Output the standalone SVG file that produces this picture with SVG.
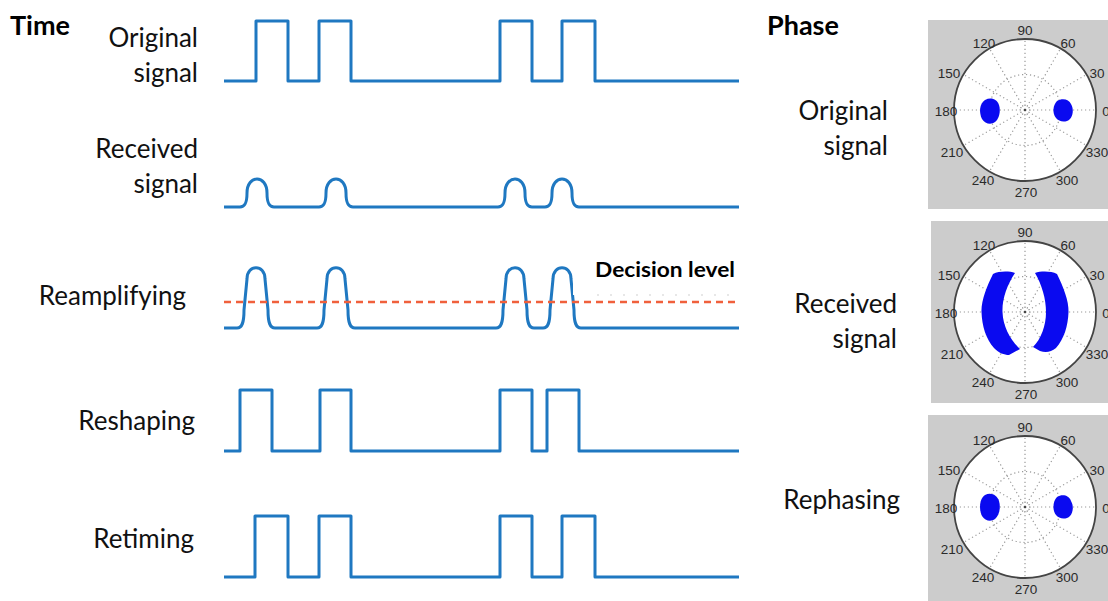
<svg xmlns="http://www.w3.org/2000/svg" xmlns:xlink="http://www.w3.org/1999/xlink" width="1108" height="601" viewBox="0 0 1108 601">
<style>
.lbl{font-family:Lato,"Liberation Sans",sans-serif;font-size:26px;fill:#111}
.hdr{font-family:Lato,"Liberation Sans",sans-serif;font-size:27px;font-weight:bold;fill:#000}
.wave{fill:none;stroke:#1f78c1;stroke-width:3;stroke-linejoin:round}
.ang{font-family:"Liberation Sans",Arial,sans-serif;font-size:13.5px;fill:#2a2a2a;text-anchor:middle}
.panel{fill:#cccccc}
.blob{fill:#0a0af0}
</style>
<defs>
<g id="polargrid">
<circle r="71" fill="#fff" stroke="#444" stroke-width="1.8"/>
<path d="M0,0L71,0M0,0L61.5,-35.5M0,0L35.5,-61.5M0,0L0,-71M0,0L-35.5,-61.5M0,0L-61.5,-35.5M0,0L-71,0M0,0L-61.5,35.5M0,0L-35.5,61.5M0,0L0,71M0,0L35.5,61.5M0,0L61.5,35.5" fill="none" stroke="#999" stroke-width="1.2" stroke-dasharray="1.2 2.8"/>
<circle r="35.5" fill="none" stroke="#999" stroke-width="1.2" stroke-dasharray="1.2 2.8"/>
<circle r="5" fill="none" stroke="#999" stroke-width="1" stroke-dasharray="1 1.5"/>
<circle r="1.3" fill="#444"/>
</g>
</defs>

<g id="time-header"><text class="hdr" x="10" y="35">Time</text></g>
<g id="phase-header"><text class="hdr" x="767" y="35">Phase</text></g>

<g id="row-original">
<text class="lbl" x="198" y="47" text-anchor="end">Original</text>
<text class="lbl" x="198" y="82" text-anchor="end">signal</text>
<path class="wave" d="M224,81H256V21H288V81H319V21H351V81H500V21H532V81H562V21H595V81H739"/>
</g>

<g id="row-received">
<text class="lbl" x="198" y="158" text-anchor="end">Received</text>
<text class="lbl" x="198" y="193" text-anchor="end">signal</text>
<path class="wave" d="M224,207H240C245,207 247,203 247,193C247,174.3 267,174.3 267,193C267,203 269,207 274,207H319C324,207 326,203 326,193C326,174.3 346,174.3 346,193C346,203 348,207 353,207H498C503,207 505,203 505,193C505,174.3 525,174.3 525,193C525,203 527,207 532,207H545C550,207 552,203 552,193C552,174.3 572,174.3 572,193C572,203 574,207 579,207H739"/>
</g>

<g id="row-reamplifying">
<text class="lbl" x="186" y="305" text-anchor="end">Reamplifying</text>
<path class="wave" d="M224,328H237C242,328 244,323 244,310L247,279C247,264 265,264 265,279L268,310C268,323 270,328 275,328H317C322,328 324,323 324,310L327,279C327,264 345,264 345,279L348,310C348,323 350,328 355,328H496C501,328 503,323 503,310L506,279C506,264 524,264 524,279L527,310C527,323 529,328 534,328H543C548,328 550,323 550,310L553,279C553,264 571,264 571,279L574,310C574,323 576,328 581,328H739"/>
<rect x="573" y="250" width="168" height="45" fill="#fff"/>
<line x1="597" y1="295" x2="739" y2="295" stroke="#cfcfcf" stroke-width="1.2" stroke-dasharray="2 11"/>
<line x1="224" y1="302" x2="739" y2="302" stroke="#f0603c" stroke-width="2.5" stroke-dasharray="7 5"/>
<text x="595" y="277" font-family="Lato,'Liberation Sans',sans-serif" font-size="20" font-weight="bold" fill="#000" textLength="140" lengthAdjust="spacingAndGlyphs">Decision level</text>
</g>

<g id="row-reshaping">
<text class="lbl" x="195" y="430" text-anchor="end">Reshaping</text>
<path class="wave" d="M224,451H240V390H272V451H320V390H351V451H500V390H532V451H547V390H579V451H739"/>
</g>

<g id="row-retiming">
<text class="lbl" x="194" y="548" text-anchor="end">Retiming</text>
<path class="wave" d="M224,577H255V516H288V577H319V516H351V577H500V516H532V577H562V516H595V577H739"/>
</g>

<g id="phase-original">
<text class="lbl" x="888" y="120" text-anchor="end">Original</text>
<text class="lbl" x="888" y="155" text-anchor="end">signal</text>
<rect class="panel" x="928" y="20" width="180" height="189"/>
<g transform="translate(1025,110)">
<use xlink:href="#polargrid"/>
<path class="blob" d="M-40,-10C-34,-13 -28,-11 -26,-5C-24,1 -26,9 -30,12C-34,15 -40,14 -43,9C-46,3 -46,-6 -40,-10Z"/>
<path class="blob" d="M32,-9C37,-12 44,-11 46,-6C49,-1 48,6 45,9C41,13 34,12 31,8C27,3 28,-5 32,-9Z"/>
<text class="ang" x="0" y="-75">90</text>
<text class="ang" x="-41" y="-62">120</text>
<text class="ang" x="43" y="-62">60</text>
<text class="ang" x="-76" y="-32">150</text>
<text class="ang" x="72" y="-32">30</text>
<text class="ang" x="-79" y="6">180</text>
<text class="ang" x="81" y="6">0</text>
<text class="ang" x="-73" y="47">210</text>
<text class="ang" x="72" y="47">330</text>
<text class="ang" x="-42" y="75">240</text>
<text class="ang" x="42" y="75">300</text>
<text class="ang" x="1" y="87">270</text>
</g>
</g>

<g id="phase-received">
<text class="lbl" x="897" y="313" text-anchor="end">Received</text>
<text class="lbl" x="897" y="348" text-anchor="end">signal</text>
<rect class="panel" x="931" y="221" width="177" height="182"/>
<g transform="translate(1025,312)">
<use xlink:href="#polargrid"/>
<path class="blob" d="M-32,-38C-38,-26 -44,-11 -43.5,0C-43,14 -39,27 -31,36C-26,41 -21,43 -16,43L-5,37C-14,29 -22,15 -22.5,0C-23,-13 -18,-27 -10,-39C-16,-41 -26,-41 -32,-38Z"/>
<path class="blob" d="M32,-38C38,-26 44,-11 43.5,0C43,14 39,27 31,36C26,40 21,41 15,39L8,35C16,27 21,14 21,0C21,-13 17,-27 10,-39C16,-41 26,-41 32,-38Z"/>
<text class="ang" x="0" y="-75">90</text>
<text class="ang" x="-41" y="-62">120</text>
<text class="ang" x="43" y="-62">60</text>
<text class="ang" x="-76" y="-32">150</text>
<text class="ang" x="72" y="-32">30</text>
<text class="ang" x="-79" y="6">180</text>
<text class="ang" x="81" y="6">0</text>
<text class="ang" x="-73" y="47">210</text>
<text class="ang" x="72" y="47">330</text>
<text class="ang" x="-42" y="75">240</text>
<text class="ang" x="42" y="75">300</text>
<text class="ang" x="1" y="87">270</text>
</g>
</g>

<g id="phase-rephasing">
<text class="lbl" x="900" y="509" text-anchor="end">Rephasing</text>
<rect class="panel" x="928" y="415" width="180" height="186"/>
<g transform="translate(1025,507)">
<use xlink:href="#polargrid"/>
<path class="blob" d="M-40,-12C-34,-15 -28,-12 -26,-6C-24,1 -26,9 -30,12C-34,15 -40,14 -43,9C-46,3 -46,-8 -40,-12Z"/>
<path class="blob" d="M32,-10C37,-13 44,-12 46,-6C49,-1 48,6 45,9C41,13 34,12 31,8C27,3 28,-6 32,-10Z"/>
<text class="ang" x="0" y="-75">90</text>
<text class="ang" x="-41" y="-62">120</text>
<text class="ang" x="43" y="-62">60</text>
<text class="ang" x="-76" y="-32">150</text>
<text class="ang" x="72" y="-32">30</text>
<text class="ang" x="-79" y="6">180</text>
<text class="ang" x="81" y="6">0</text>
<text class="ang" x="-73" y="47">210</text>
<text class="ang" x="72" y="47">330</text>
<text class="ang" x="-42" y="75">240</text>
<text class="ang" x="42" y="75">300</text>
<text class="ang" x="1" y="87">270</text>
</g>
</g>
</svg>
